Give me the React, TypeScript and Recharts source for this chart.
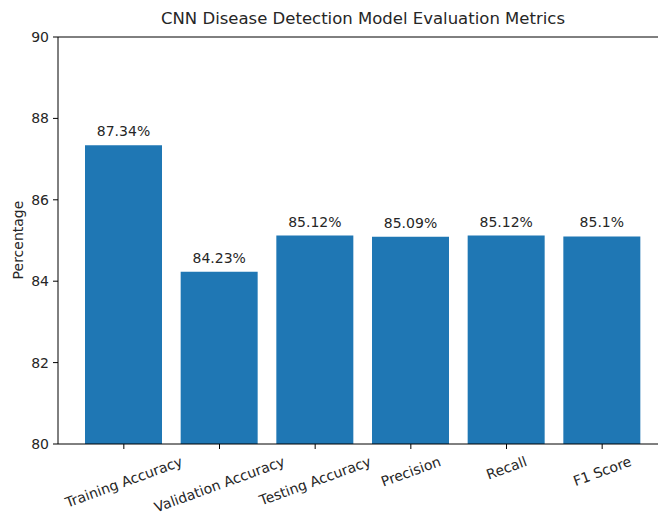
import React from "react"
import { Bar, BarChart, LabelList, ReferenceLine, XAxis, YAxis } from "recharts"

const metrics = [
  "Training Accuracy",
  "Validation Accuracy",
  "Testing Accuracy",
  "Precision",
  "Recall",
  "F1 Score",
]
const scores = [87.34, 84.23, 85.12, 85.09, 85.12, 85.1]
const yTicks = [80, 82, 84, 86, 88, 90]

const data = metrics.map((name, i) => ({ name, value: scores[i] }))

const FONT = "DejaVu Sans, sans-serif"
const TEXT = "#262626"
const FS = 14

let ctx: CanvasRenderingContext2D | null = null
function textWidth(s: string) {
  if (!ctx) ctx = document.createElement("canvas").getContext("2d")
  if (!ctx) return s.length * FS * 0.6
  ctx.font = `${FS}px ${FONT}`
  return ctx.measureText(s).width
}

// rotated tick, centred under the tick like matplotlib's rotation=20
function SlantTick(props: any) {
  const { x, y, payload } = props
  const label = String(payload.value)
  const w = textWidth(label)
  const h = FS * 1.17
  const a = (20 * Math.PI) / 180
  const boxH = w * Math.sin(a) + h * Math.cos(a)
  const cy = y + 2 + boxH / 2
  return (
    <text
      x={x}
      y={cy}
      textAnchor="middle"
      dominantBaseline="central"
      transform={`rotate(-20, ${x}, ${cy})`}
      fontSize={FS}
      fontFamily={FONT}
      fill={TEXT}
    >
      {label}
    </text>
  )
}

export default function App() {
  return (
    <div
      style={{
        position: "absolute",
        left: 0,
        top: 0,
        width: 658,
        height: 512,
        overflow: "hidden",
        background: "#fff",
        fontFamily: FONT,
      }}
    >
      <BarChart
        width={680}
        height={512}
        data={data}
        margin={{ top: 37, right: 12, bottom: 0, left: 0 }}
      >
        <XAxis
          dataKey="name"
          height={68}
          padding={{ left: 18, right: 18 }}
          tickSize={5}
          stroke="#000"
          tickLine={{ stroke: "#000" }}
          axisLine={{ stroke: "#000" }}
          tick={<SlantTick />}
          interval={0}
        />
        <YAxis
          width={58}
          domain={[80, 90]}
          ticks={yTicks}
          allowDataOverflow
          tickSize={5}
          tickMargin={4}
          stroke="#000"
          tick={{ fill: TEXT, fontSize: FS, fontFamily: FONT }}
        />
        <ReferenceLine y={90} stroke="#000" />
        <Bar dataKey="value" fill="#1f77b4" barSize={77} isAnimationActive={false}>
          <LabelList
            dataKey="value"
            position="top"
            offset={9}
            formatter={(v: any) => `${v}%`}
            style={{ fill: TEXT, fontSize: FS, fontFamily: FONT }}
          />
        </Bar>
      </BarChart>
      <div
        style={{
          position: "absolute",
          left: 58,
          width: 610,
          top: 9,
          textAlign: "center",
          fontSize: 16.5,
          lineHeight: "20px",
          color: TEXT,
        }}
      >
        CNN Disease Detection Model Evaluation Metrics
      </div>
      <div
        style={{
          position: "absolute",
          left: 18,
          top: 240,
          transform: "translate(-50%, -50%) rotate(-90deg)",
          whiteSpace: "nowrap",
          fontSize: FS,
          color: TEXT,
        }}
      >
        Percentage
      </div>
    </div>
  )
}
